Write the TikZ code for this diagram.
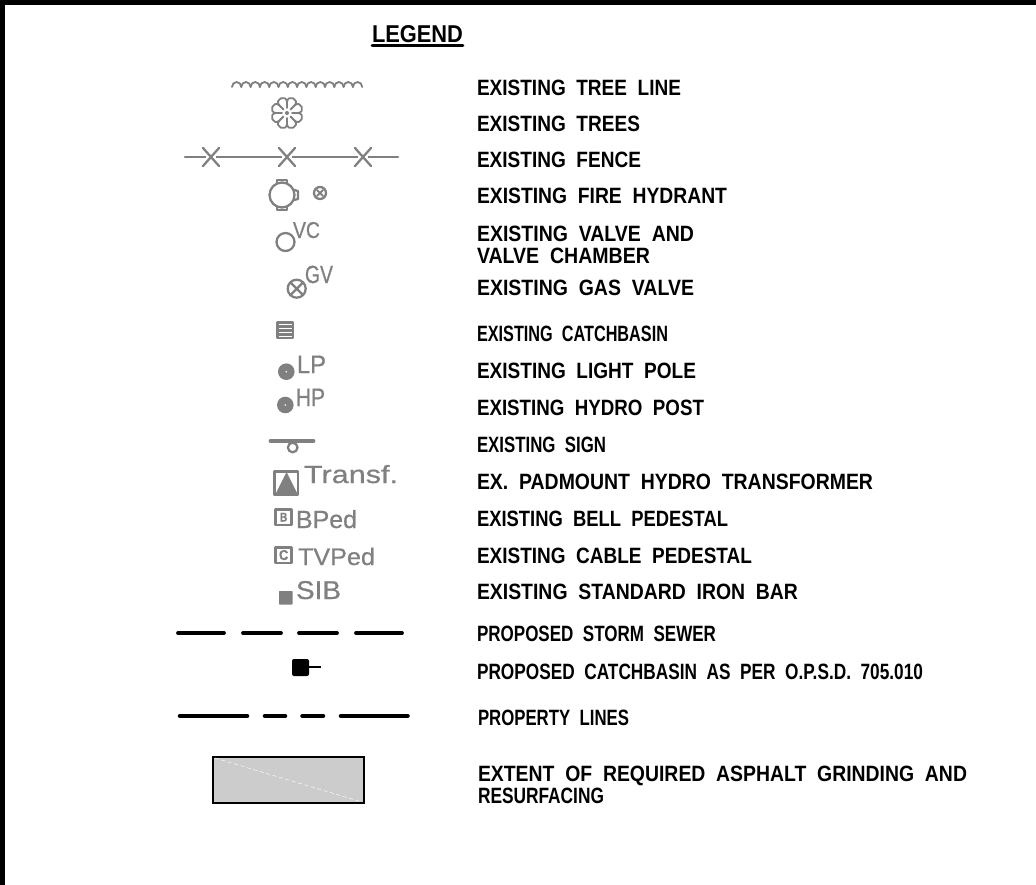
\documentclass[tikz,border=0pt]{standalone}
\usepackage{fontspec}
\usepackage{graphicx}
\setmainfont{Liberation Sans}
\newfontfamily\grayfont[FakeBold=0.6]{Liberation Sans}
\definecolor{sym}{gray}{0.5}
\definecolor{fillg}{gray}{0.8}
\begin{document}
\begin{tikzpicture}[x=0.75pt,y=-0.75pt,
  lab/.style={anchor=base west,inner sep=0pt,outer sep=0pt},
  glab/.style={lab,text=sym,font=\grayfont},
  symline/.style={draw=sym,line width=1.7pt,line cap=round,line join=round},
  thin sym/.style={draw=sym,line width=1.35pt,line cap=round,line join=round},
  blackdash/.style={draw=black,line cap=round},
]
\useasboundingbox (0,0) rectangle (1036,885);
\fill[white] (0,0) rectangle (1036,885);
\fill[black] (0,0) rectangle (1036,5);
\fill[black] (0,0) rectangle (5,885);

% Title
\node[lab] (title) at (372,42) {\resizebox{68.25pt}{12.75pt}{\textbf{LEGEND}}};
\draw[black,line width=1.9pt,line cap=round] (title.base west)++(0,3.5) -- ++(91,0);

% Labels
\newcommand{\row}[5][477]{\node[lab] (#2) at (#1,#3) {\resizebox{\dimexpr #4pt*3/4\relax}{11.6pt}{\textbf{#5}}};}
\row{l1}{95}{204}{EXISTING\ \ TREE\ \ LINE}
\row{l2}{131}{163}{EXISTING\ \ TREES}
\row{l3}{167}{164}{EXISTING\ \ FENCE}
\row{l4}{203}{250}{EXISTING\ \ FIRE\ \ HYDRANT}
\row{l5}{241}{217}{EXISTING\ \ VALVE\ \ AND}
\row{l5b}{263}{173}{VALVE\ \ CHAMBER}
\row{l6}{295}{217}{EXISTING\ \ GAS\ \ VALVE}
\row{l7}{341}{191}{EXISTING\ \ CATCHBASIN}
\row{l8}{378}{219}{EXISTING\ \ LIGHT\ \ POLE}
\row{l9}{415}{227}{EXISTING\ \ HYDRO\ \ POST}
\row{l10}{452}{129}{EXISTING\ \ SIGN}
\row{l11}{489}{396}{EX.\ \ PADMOUNT\ \ HYDRO\ \ TRANSFORMER}
\row{l12}{526}{251}{EXISTING\ \ BELL\ \ PEDESTAL}
\row{l13}{563}{275}{EXISTING\ \ CABLE\ \ PEDESTAL}
\row{l14}{599}{321}{EXISTING\ \ STANDARD\ \ IRON\ \ BAR}
\row{l15}{641}{239}{PROPOSED\ \ STORM\ \ SEWER}
\row{l16}{679}{446}{PROPOSED\ \ CATCHBASIN\ \ AS\ \ PER\ \ O.P.S.D.\ \ 705.010}
\row[478]{l17}{725}{151}{PROPERTY\ \ LINES}
\row[478]{l18}{781}{489}{EXTENT\ \ OF\ \ REQUIRED\ \ ASPHALT\ \ GRINDING\ \ AND}
\row[478]{l18b}{803}{126}{RESURFACING}

% Tree line
\foreach \i in {0,...,13}{
  \draw[thin sym] ({232+\i*9.3},87) arc[start angle=180,end angle=0,x radius=4.65,y radius=-5];
}
% Tree
\coordinate (tc) at (287,113);
\foreach \a in {0,45,...,315}{
  \draw[thin sym] ({287+11*cos(\a)},{113-11*sin(\a)}) .. controls ({287+19*cos(\a+2)},{113-19*sin(\a+2)}) and ({287+19*cos(\a+43)},{113-19*sin(\a+43)}) .. ({287+11*cos(\a+45)},{113-11*sin(\a+45)});
  \draw[thin sym] ({287+5*cos(\a)},{113-5*sin(\a)}) -- ({287+11*cos(\a)},{113-11*sin(\a)});
}
\fill[sym] (tc) circle[radius=2];

% Fence
\coordinate (f0) at (185,157); \coordinate (f1) at (398,157);
\draw[symline] (f0) -- (f1);
\foreach \x in {211,287,363}{
  \fill[white] (\x-5,152) rectangle (\x+5,162);
  \draw[symline] (\x-8,148) -- (\x+8,166) (\x+8,148) -- (\x-8,166);
}

% Hydrant
\draw[symline] (282,195) circle[radius=12.5];
\draw[symline] (277,183) -- (277,180) -- (287,180) -- (287,183);
\draw[symline] (277,207) -- (277,210) -- (287,210) -- (287,207);
\draw[symline] (294,190) -- (298,191) -- (298,199) -- (294,200);
% Small valve
\draw[symline] (320,193) circle[radius=6];
\draw[thin sym] (317,190) -- (323,196) (323,190) -- (317,196);
% VC
\draw[symline] (285.5,242) circle[radius=9];
\node[glab] (vc) at (293,238) {\resizebox{20.25pt}{12pt}{VC}};
% GV
\draw[symline] (296.7,288.7) circle[radius=9];
\draw[symline] (290.5,282.5) -- (303,295) (303,282.5) -- (290.5,295);
\node[glab] (gv) at (305,283) {\resizebox{21pt}{13pt}{GV}};
% Catchbasin
\draw[symline] (277.5,322.5) rectangle (293,338);
\foreach \y in {326.5,330.5,334.5}{\draw[symline] (278,\y) -- (292.5,\y);}
% LP
\fill[sym] (286.3,371.7) circle[radius=8.3];
\fill[white] (286.3,371.7) circle[radius=0.9];
\node[glab] (lp) at (297,373) {\resizebox{21.75pt}{13pt}{LP}};
% HP
\fill[sym] (285.3,405) circle[radius=8.3];
\fill[white] (285.3,405) circle[radius=0.9];
\node[glab] (hp) at (296,406) {\resizebox{21.75pt}{13pt}{HP}};
% Sign
\draw[symline,line width=2.8pt] (270.5,441) -- (313.5,441);
\draw[symline] (292.7,447.5) circle[radius=4.8];
% Transformer
\draw[symline] (274.5,471.5) rectangle (298,495);
\fill[sym] (286.5,472) -- (298,495) -- (275,495) -- cycle;
\node[glab] (tr) at (304,483) {\resizebox{70.5pt}{13.5pt}{Transf.}};
% BPed
\draw[symline] (275.5,509.5) rectangle (291.5,525);
\node[glab] (bl) at (280,521.5) {\resizebox{5.5pt}{6.5pt}{\textbf{B}}};
\node[glab] (bp) at (296,528) {\resizebox{45.75pt}{13.5pt}{BPed}};
% TVPed
\draw[symline] (275.5,547.5) rectangle (291.5,563);
\node[glab] (cl) at (279,560) {\resizebox{7pt}{7.5pt}{\textbf{C}}};
\node[glab] (tv) at (298,565) {\resizebox{57.75pt}{13pt}{TVPed}};
% SIB
\fill[sym,rounded corners=0.5pt] (279,591) rectangle (292.5,604.5);
\node[glab] (sib) at (296,599) {\resizebox{33.75pt}{13.5pt}{SIB}};

% Storm sewer
\draw[blackdash,line width=2.8pt] (178,633) -- (224,633) (243,633) -- (281,633) (299,633) -- (337,633) (356,633) -- (402,633);
% Proposed CB
\fill[black,rounded corners=1.5pt] (292,659) rectangle (309,676);
\draw[black,line width=1.1pt] (309,667) -- (321,667);
% Property lines
\draw[blackdash,line width=3.4pt] (180,716) -- (247,716) (265,716) -- (285,716) (302.5,716) -- (323,716) (341,716) -- (407.5,716);
% Asphalt
\draw[draw=black,fill=fillg,line width=1.2pt] (213,757) rectangle (364,803);
\draw[white!90!fillg,densely dashed,line width=0.4pt] (215,758) -- (362,802);
\end{tikzpicture}
\end{document}
